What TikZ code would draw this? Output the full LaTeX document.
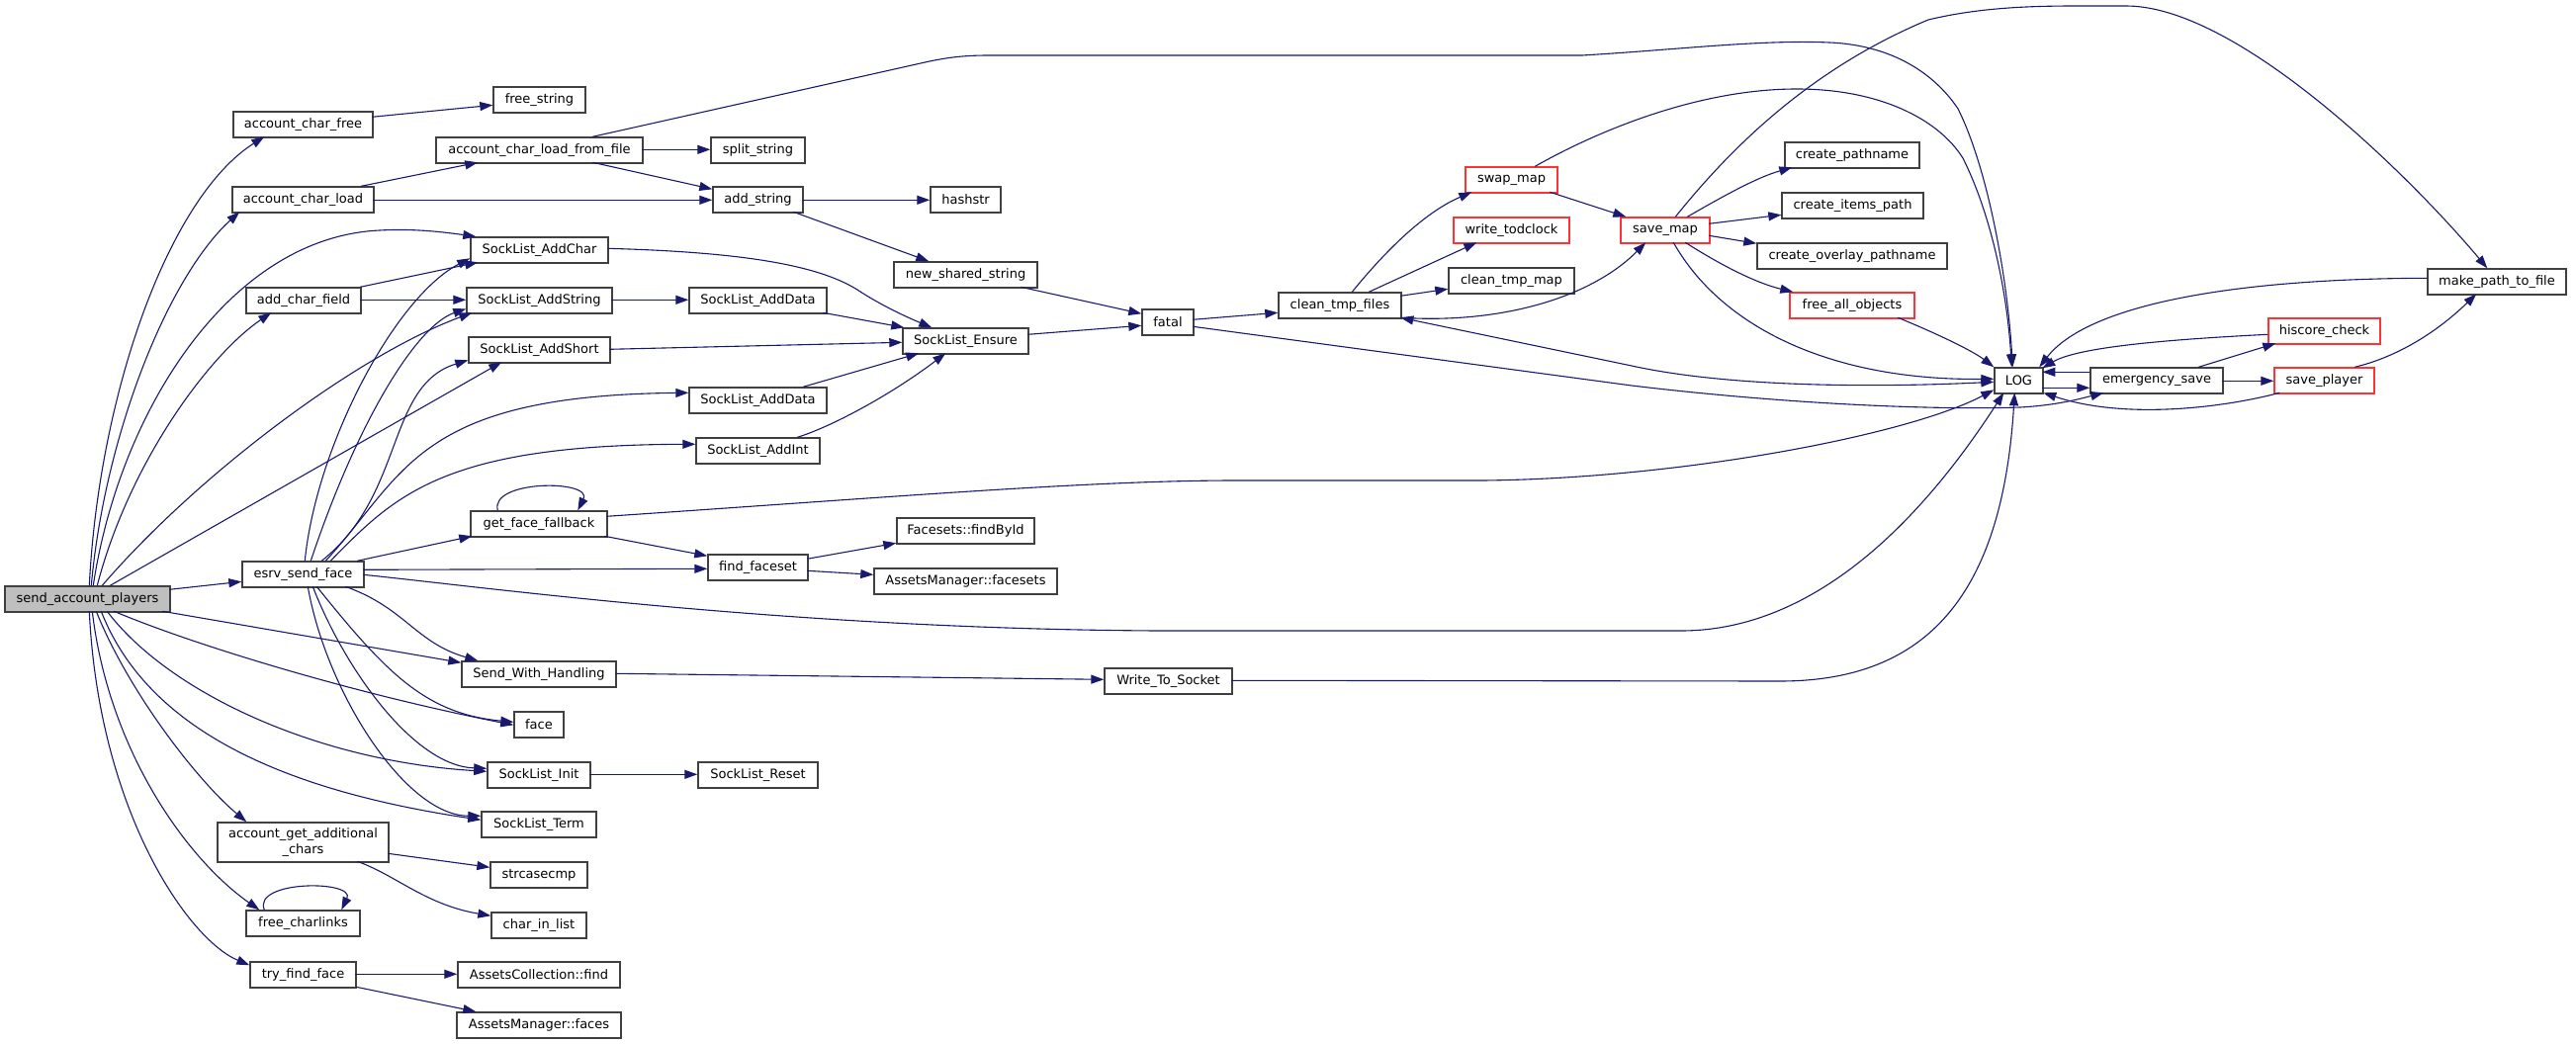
\documentclass[tikz,border=0pt]{standalone}
\usepackage{fontspec}
\setmainfont{DejaVu Sans}
\usetikzlibrary{arrows.meta,calc}
\definecolor{edgec}{HTML}{191970}
\definecolor{boxc}{HTML}{404040}
\definecolor{redc}{HTML}{FF3333}
\definecolor{rootc}{HTML}{BFBFBF}
\newcommand{\Q}[3]{($(#1.north west)+(#2,#3)$)}
\newcommand{\bx}[7]{\node[#7, minimum width={(#3-#2)*1pt}, minimum height={(#5-#4)*1pt}] (#1) at ({(#2+#3)/2},{(#4+#5)/2}) {#6};}
\begin{document}
\begin{tikzpicture}[x=1pt,y=-1pt,
  font=\fontsize{13}{15.5}\selectfont,
  box/.style={draw=boxc, line width=1.4pt, fill=white, inner sep=0pt},
  rbox/.style={box, draw=redc},
  root/.style={box, fill=rootc},
  cg/.style={draw=edgec, line width=1.1pt, -{Triangle[length=13pt,width=9pt]}},
  cgb/.style={draw=edgec, line width=1.1pt, {Triangle[length=13pt,width=9pt]}-{Triangle[length=13pt,width=9pt]}}]
\fill[white] (0,0) rectangle (2605,1056);
\useasboundingbox (0,0) rectangle (2605,1056);
% nodes
\bx{S}{5}{172}{593}{619}{send\_account\_players}{root}
\bx{ACF}{236}{377}{113}{139}{account\_char\_free}{box}
\bx{ACL}{235}{378}{189}{215}{account\_char\_load}{box}
\bx{ACFd}{249}{365}{291}{317}{add\_char\_field}{box}
\bx{ESF}{245}{368}{568}{594}{esrv\_send\_face}{box}
\bx{AGAC}{220}{393}{832}{872}{account\_get\_additional\\\_chars}{box,align=center}
\bx{FCL}{249}{364}{921}{947}{free\_charlinks}{box}
\bx{TFF}{253}{360}{973}{999}{try\_find\_face}{box}
\bx{FS}{499}{592}{88}{114}{free\_string}{box}
\bx{ACLF}{441}{650}{139}{165}{account\_char\_load\_from\_file}{box}
\bx{SLAC}{476}{615}{240}{266}{SockList\_AddChar}{box}
\bx{SLAS}{472}{619}{291}{317}{SockList\_AddString}{box}
\bx{SLASh}{474}{617}{341}{367}{SockList\_AddShort}{box}
\bx{GFF}{476}{614}{517}{543}{get\_face\_fallback}{box}
\bx{SWH}{467}{623}{669}{695}{Send\_With\_Handling}{box}
\bx{FACE}{520}{570}{720}{746}{face}{box}
\bx{SLI}{493}{597}{771}{797}{SockList\_Init}{box}
\bx{SLT}{487}{603}{821}{847}{SockList\_Term}{box}
\bx{SCC}{496}{594}{872}{898}{strcasecmp}{box}
\bx{CIL}{497}{593}{923}{949}{char\_in\_list}{box}
\bx{ACfind}{463}{627}{973}{999}{AssetsCollection::find}{box}
\bx{AMfaces}{462}{628}{1024}{1050}{AssetsManager::faces}{box}
\bx{SS}{719}{814}{139}{165}{split\_string}{box}
\bx{AS}{721}{812}{189}{215}{add\_string}{box}
\bx{SLADa}{697}{836}{291}{317}{SockList\_AddData}{box}
\bx{SLADb}{697}{836}{392}{418}{SockList\_AddData}{box}
\bx{SLAI}{704}{829}{443}{469}{SockList\_AddInt}{box}
\bx{FFS}{716}{817}{561}{587}{find\_faceset}{box}
\bx{SLR}{706}{827}{771}{797}{SockList\_Reset}{box}
\bx{HS}{941}{1012}{189}{215}{hashstr}{box}
\bx{NSS}{904}{1049}{265}{291}{new\_shared\_string}{box}
\bx{SLE}{913}{1040}{332}{358}{SockList\_Ensure}{box}
\bx{FBI}{907}{1046}{524}{550}{Facesets::findById}{box}
\bx{AMFS}{884}{1069}{575}{601}{AssetsManager::facesets}{box}
\bx{FATAL}{1155}{1207}{313}{339}{fatal}{box}
\bx{WTS}{1117}{1246}{676}{702}{Write\_To\_Socket}{box}
\bx{CTF}{1293}{1417}{296}{322}{clean\_tmp\_files}{box}
\bx{SWM}{1482}{1575}{169}{195}{swap\_map}{rbox}
\bx{WTC}{1470}{1587}{220}{246}{write\_todclock}{rbox}
\bx{CTM}{1465}{1592}{271}{297}{clean\_tmp\_map}{box}
\bx{SM}{1639}{1729}{220}{246}{save\_map}{rbox}
\bx{CPN}{1805}{1941}{144}{170}{create\_pathname}{box}
\bx{CIP}{1802}{1945}{195}{221}{create\_items\_path}{box}
\bx{COP}{1777}{1969}{246}{272}{create\_overlay\_pathname}{box}
\bx{FAO}{1810}{1936}{296}{322}{free\_all\_objects}{rbox}
\bx{LOG}{2017}{2066}{372}{398}{LOG}{box}
\bx{ES}{2114}{2248}{372}{398}{emergency\_save}{box}
\bx{HC}{2294}{2407}{322}{348}{hiscore\_check}{rbox}
\bx{SP}{2300}{2401}{372}{398}{save\_player}{rbox}
\bx{MPF}{2455}{2595}{272}{298}{make\_path\_to\_file}{box}
% edges from send_account_players
\draw[cg] \Q{S}{86}{0} .. controls (100,400) and (170,200) .. \Q{ACF}{32}{26};
\draw[cg] \Q{S}{88}{0} .. controls (106,440) and (170,280) .. \Q{ACL}{8}{26};
\draw[cg] \Q{S}{90}{0} .. controls (120,420) and (230,240) .. (384,233) .. controls (420,231) and (450,235) .. \Q{SLAC}{6}{0};
\draw[cg] \Q{S}{94}{0} .. controls (130,470) and (210,360) .. \Q{ACFd}{26}{26};
\draw[cg] \Q{S}{99}{0} .. controls (200,480) and (360,360) .. \Q{SLAS}{6}{26};
\draw[cg] \Q{S}{107}{0} -- \Q{SLASh}{34}{26};
\draw[cg] \Q{S}{167}{4} -- \Q{ESF}{0}{21};
\draw[cg] \Q{S}{160}{26} -- \Q{SWH}{0}{2};
\draw[cg] \Q{S}{111}{26} .. controls (190,650) and (350,700) .. \Q{FACE}{0}{14};
\draw[cg] \Q{S}{104}{26} .. controls (170,700) and (320,770) .. \Q{SLI}{0}{10};
\draw[cg] \Q{S}{98}{26} .. controls (150,740) and (290,800) .. \Q{SLT}{0}{9};
\draw[cg] \Q{S}{93}{26} .. controls (130,700) and (200,790) .. \Q{AGAC}{30}{0};
\draw[cg] \Q{S}{89}{26} .. controls (110,760) and (190,870) .. \Q{FCL}{14}{0};
\draw[cg] \Q{S}{86}{26} .. controls (100,820) and (190,950) .. \Q{TFF}{0}{4};
% edges from esrv_send_face
\draw[cg] \Q{ESF}{64}{0} .. controls (320,450) and (400,300) .. \Q{SLAC}{0}{22};
\draw[cg] \Q{ESF}{70}{0} .. controls (360,430) and (420,330) .. \Q{SLAS}{0}{22};
\draw[cg] \Q{ESF}{81}{0} .. controls (410,500) and (390,390) .. \Q{SLASh}{0}{24};
\draw[cg] \Q{ESF}{85}{0} .. controls (410,480) and (420,400) .. \Q{SLADb}{0}{6};
\draw[cg] \Q{ESF}{90}{0} .. controls (400,500) and (450,450) .. \Q{SLAI}{0}{7};
\draw[cg] \Q{ESF}{117}{0} -- \Q{GFF}{2}{26};
\draw[cg] \Q{ESF}{123}{9} -- \Q{FFS}{0}{15};
\draw[cg] \Q{ESF}{123}{14} .. controls (500,595) and (800,636) .. (1170,638) -- (1700,638) .. controls (1850,638) and (1960,500) .. \Q{LOG}{10}{26};
\draw[cg] \Q{ESF}{105}{26} .. controls (410,615) and (420,650) .. \Q{SWH}{17}{0};
\draw[cg] \Q{ESF}{76}{26} .. controls (390,680) and (430,722) .. \Q{FACE}{0}{11};
\draw[cg] \Q{ESF}{72}{26} .. controls (350,680) and (420,775) .. \Q{SLI}{0}{7};
\draw[cg] \Q{ESF}{67}{26} .. controls (330,700) and (410,825) .. \Q{SLT}{0}{5};
% other edges
\draw[cg] \Q{ACF}{141}{6} -- \Q{FS}{0}{19};
\draw[cg] \Q{ACL}{131}{0} -- \Q{ACLF}{43}{26};
\draw[cg] \Q{ACL}{143}{14} -- \Q{AS}{0}{14};
\draw[cg] \Q{ACLF}{209}{13} -- \Q{SS}{0}{13};
\draw[cg] \Q{ACLF}{159}{26} -- \Q{AS}{0}{3};
\draw[cg] \Q{ACLF}{159}{0} -- (940,62) .. controls (960,58) and (975,56) .. (1000,56) -- (1600,56) .. controls (1700,50) and (1780,40) .. (1850,43) .. controls (1920,46) and (1960,80) .. (1980,110) .. controls (2010,170) and (2030,280) .. \Q{LOG}{19}{0};
\draw[cg] \Q{ACFd}{116}{0} -- \Q{SLAC}{8}{26};
\draw[cg] \Q{ACFd}{116}{13} -- \Q{SLAS}{0}{13};
\draw[cg] \Q{SLAC}{139}{12} .. controls (750,255) and (830,268) .. (870,295) .. controls (890,308) and (915,320) .. \Q{SLE}{30}{0};
\draw[cg] \Q{SLAS}{147}{13} -- \Q{SLADa}{0}{13};
\draw[cg] \Q{SLASh}{143}{13} -- \Q{SLE}{0}{15};
\draw[cg] \Q{SLADa}{136}{26} -- \Q{SLE}{2}{0};
\draw[cg] \Q{SLADb}{116}{0} -- \Q{SLE}{17}{26};
\draw[cg] \Q{SLAI}{103}{0} .. controls (840,432) and (900,400) .. \Q{SLE}{44}{26};
\draw[cg] \Q{AS}{91}{14} -- \Q{HS}{0}{14};
\draw[cg] \Q{AS}{82}{26} -- \Q{NSS}{36}{0};
\draw[cg] \Q{NSS}{129}{26} -- \Q{FATAL}{0}{5};
\draw[cg] \Q{SLE}{127}{7} -- \Q{FATAL}{0}{17};
\draw[cg] \Q{FATAL}{52}{11} -- \Q{CTF}{0}{21};
\draw[cg] \Q{FATAL}{52}{18} -- (1650,390) .. controls (1800,408) and (1950,415) .. (2043,412) .. controls (2080,410) and (2105,403) .. \Q{ES}{14}{26};
\draw[cg] \Q{CTF}{75}{0} .. controls (1400,255) and (1440,215) .. \Q{SWM}{7}{26};
\draw[cg] \Q{CTF}{92}{0} -- \Q{WTC}{24}{26};
\draw[cg] \Q{CTF}{124}{4} -- \Q{CTM}{0}{22};
\draw[cg] \Q{CTF}{124}{26} .. controls (1520,328) and (1610,300) .. \Q{SM}{26}{26};
\draw[cgb] \Q{CTF}{124}{26} -- (1650,370) .. controls (1750,392) and (1900,392) .. \Q{LOG}{0}{15};
\draw[cg] \Q{SWM}{86}{26} -- \Q{SM}{6}{0};
\draw[cg] \Q{SWM}{71}{0} .. controls (1620,130) and (1720,90) .. (1817,90) .. controls (1900,90) and (1960,120) .. (1985,160) .. controls (2015,220) and (2030,300) .. \Q{LOG}{18}{0};
\draw[cg] \Q{SM}{56}{0} .. controls (1750,150) and (1830,70) .. (1950,20) .. controls (2000,8) and (2050,6) .. (2100,6) -- (2150,6) .. controls (2260,6) and (2430,170) .. \Q{MPF}{61}{0};
\draw[cg] \Q{SM}{68}{0} .. controls (1740,200) and (1775,180) .. \Q{CPN}{8}{26};
\draw[cg] \Q{SM}{90}{7} -- \Q{CIP}{0}{23};
\draw[cg] \Q{SM}{90}{19} -- \Q{COP}{0}{1};
\draw[cg] \Q{SM}{66}{26} .. controls (1740,268) and (1775,286) .. \Q{FAO}{4}{0};
\draw[cg] \Q{SM}{54}{26} .. controls (1740,330) and (1850,385) .. \Q{LOG}{0}{12};
\draw[cg] \Q{FAO}{110}{26} .. controls (1960,338) and (1995,355) .. \Q{LOG}{0}{0};
\draw[cg] \Q{LOG}{49}{21} -- \Q{ES}{0}{21};
\draw[cg] \Q{ES}{0}{5} -- \Q{LOG}{49}{5};
\draw[cg] \Q{ES}{110}{0} -- \Q{HC}{8}{26};
\draw[cg] \Q{ES}{134}{14} -- \Q{SP}{0}{14};
\draw[cg] \Q{HC}{0}{17} .. controls (2180,344) and (2100,352) .. \Q{LOG}{49}{1};
\draw[cg] \Q{MPF}{0}{10} .. controls (2250,282) and (2110,310) .. \Q{LOG}{46}{0};
\draw[cg] \Q{SP}{82}{0} .. controls (2420,362) and (2460,340) .. \Q{MPF}{50}{26};
\draw[cg] \Q{SP}{6}{26} .. controls (2250,412) and (2150,425) .. \Q{LOG}{50}{26};
\draw[cg] \Q{GFF}{138}{6} .. controls (900,503) and (1100,486) .. (1250,486) -- (1500,486) .. controls (1700,484) and (1930,440) .. \Q{LOG}{0}{23};
\draw[cg] \Q{GFF}{136}{26} -- \Q{FFS}{0}{2};
\draw[cg] \Q{GFF}{28}{0} .. controls (495,485) and (600,485) .. \Q{GFF}{109}{0};
\draw[cg] \Q{FFS}{101}{5} -- \Q{FBI}{0}{26};
\draw[cg] \Q{FFS}{101}{17} -- \Q{AMFS}{0}{7};
\draw[cg] \Q{SWH}{156}{13} -- \Q{WTS}{0}{12};
\draw[cg] \Q{WTS}{129}{13} -- (1800,689) .. controls (1950,689) and (2025,600) .. \Q{LOG}{21}{26};
\draw[cg] \Q{SLI}{104}{13} -- \Q{SLR}{0}{13};
\draw[cg] \Q{AGAC}{173}{32} -- \Q{SCC}{0}{6};
\draw[cg] \Q{AGAC}{142}{40} .. controls (400,885) and (430,915) .. \Q{CIL}{0}{4};
\draw[cg] \Q{FCL}{19}{0} .. controls (255,890) and (360,890) .. \Q{FCL}{97}{0};
\draw[cg] \Q{TFF}{107}{13} -- \Q{ACfind}{0}{13};
\draw[cg] \Q{TFF}{108}{26} -- \Q{AMfaces}{20}{0};
\end{tikzpicture}
\end{document}
